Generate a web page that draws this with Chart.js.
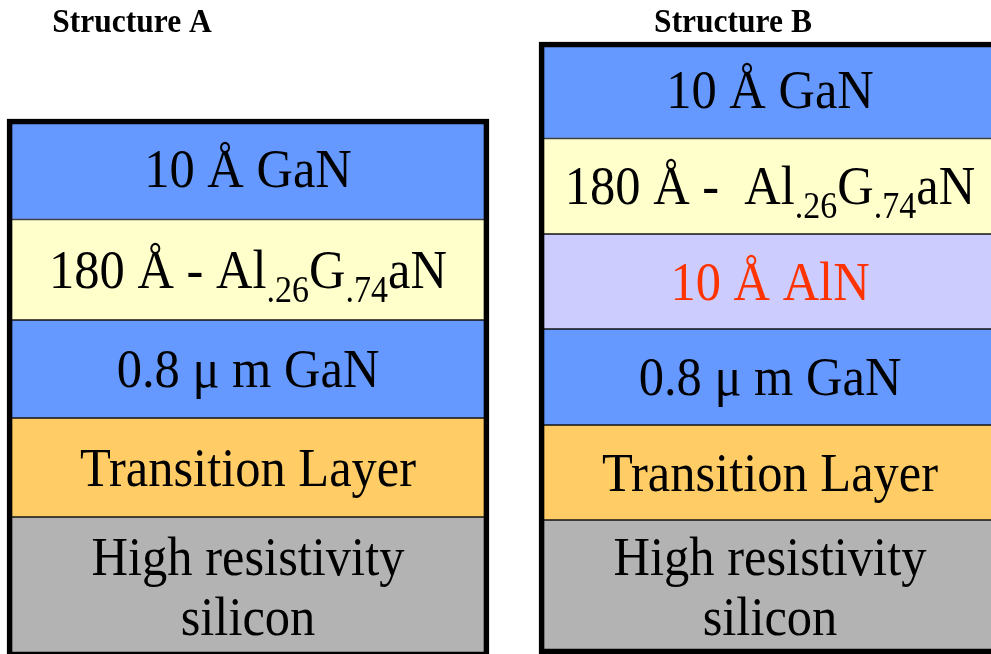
<!DOCTYPE html>
<html>
<head>
<meta charset="utf-8">
<script src="https://cdn.jsdelivr.net/npm/chart.js@4.4.1/dist/chart.umd.min.js"></script>
<style>
  body { margin: 0; background: #fff; }
  canvas { display: block; }
</style>
</head>
<body>
<canvas id="stackChart" width="991" height="654"></canvas>
<script>
// structure names and where their titles sit (x in px)
const structureNames = ['Structure A', 'Structure B'];
const titleX = [132, 733];

// layer labels, _{..} marks a subscript
const layersA = ['10 Å GaN', '180 Å - Al_{.26}G_{.74}aN', '0.8 μ m GaN', 'Transition Layer', 'High resistivity\nsilicon'];
const layersB = ['10 Å GaN', '180 Å -  Al_{.26}G_{.74}aN', '10 Å AlN', '0.8 μ m GaN', 'Transition Layer', 'High resistivity\nsilicon'];

// layer edges, top to bottom (px from top of picture)
const edgesA = [119, 219.5, 320, 418, 517, 657];
const edgesB = [42, 138.5, 234, 329, 425, 520, 654];

const fillsA = ['#6699FF', '#FFFFCC', '#6699FF', '#FFCC66', '#B3B3B3'];
const fillsB = ['#6699FF', '#FFFFCC', '#CCCCFF', '#6699FF', '#FFCC66', '#B3B3B3'];
const textColorsA = ['#000', '#000', '#000', '#000', '#000'];
const textColorsB = ['#000', '#000', '#FF3300', '#000', '#000', '#000'];

// box centre and width
const boxX = [248, 770];
const boxW = [482, 462];

const SERIF = '"Liberation Serif", "Times New Roman", serif';
const STRETCH = 1.09;

function makeDatasets(si, labels, edges, fills, textColors) {
    const sets = labels.map((lab, i) => ({
        label: lab,
        data: [{ x: boxX[si], y: [edges[i], edges[i + 1]] }],
        backgroundColor: fills[i],
        borderColor: '#151515',
        borderWidth: { top: 1, bottom: 1, left: 0, right: 0 },
        borderSkipped: false,
        barThickness: boxW[si],
        grouped: false,
        order: 1,
        textColor: textColors[i]
    }));
    // thick outline round the whole stack
    sets.push({
        label: 'outline',
        data: [{ x: boxX[si], y: [edges[0], edges[edges.length - 1]] }],
        backgroundColor: 'rgba(0,0,0,0)',
        borderColor: '#000',
        borderWidth: 5,
        borderSkipped: false,
        barThickness: boxW[si],
        grouped: false,
        order: 0,
        isOutline: true
    });
    return sets;
}

function parseRich(str) {
    const parts = [];
    const re = /_\{([^}]*)\}/g;
    let last = 0, m;
    while ((m = re.exec(str)) !== null) {
        if (m.index > last) parts.push({ t: str.slice(last, m.index), sub: false });
        parts.push({ t: m[1], sub: true });
        last = re.lastIndex;
    }
    if (last < str.length) parts.push({ t: str.slice(last), sub: false });
    return parts;
}

const mainFont = '50.5px ' + SERIF;
const subFont = '34px ' + SERIF;

const layerText = {
    id: 'layerText',
    afterDatasetsDraw(chart) {
        const ctx = chart.ctx;
        const capH = 50 * 0.662 * STRETCH;
        chart.data.datasets.forEach((ds, di) => {
            if (ds.isOutline) return;
            const bar = chart.getDatasetMeta(di).data[0];
            const cx = bar.x;
            const cy = (bar.y + bar.base) / 2;
            const lines = ds.label.split('\n');
            lines.forEach((line, li) => {
                const baseY = cy + capH / 2 + (li - (lines.length - 1) / 2) * 60;
                const parts = parseRich(line);
                let total = 0;
                parts.forEach(p => {
                    ctx.font = p.sub ? subFont : mainFont;
                    p.w = ctx.measureText(p.t).width;
                    total += p.w;
                });
                ctx.save();
                ctx.translate(cx - total / 2, baseY);
                ctx.scale(1, STRETCH);
                ctx.fillStyle = ds.textColor;
                ctx.textBaseline = 'alphabetic';
                ctx.textAlign = 'left';
                let x = 0;
                parts.forEach(p => {
                    ctx.font = p.sub ? subFont : mainFont;
                    ctx.fillText(p.t, x, p.sub ? 13 : 0);
                    x += p.w;
                });
                ctx.restore();
            });
        });
        // titles
        structureNames.forEach((name, i) => {
            ctx.save();
            ctx.translate(titleX[i], 32);
            ctx.scale(1, STRETCH);
            ctx.font = 'bold 31.5px ' + SERIF;
            ctx.fillStyle = '#000';
            ctx.textAlign = 'center';
            ctx.textBaseline = 'alphabetic';
            ctx.fillText(name, 0, 0);
            ctx.restore();
        });
    }
};

const datasets = makeDatasets(0, layersA, edgesA, fillsA, textColorsA)
    .concat(makeDatasets(1, layersB, edgesB, fillsB, textColorsB));

new Chart(document.getElementById('stackChart').getContext('2d'), {
    type: 'bar',
    data: { datasets: datasets },
    options: {
        responsive: false,
        animation: false,
        layout: { padding: 0 },
        scales: {
            x: { type: 'linear', min: 0, max: 991, offset: false, display: false },
            y: { type: 'linear', min: 0, max: 654, reverse: true, display: false }
        },
        plugins: {
            legend: { display: false },
            tooltip: { enabled: false }
        }
    },
    plugins: [layerText]
});
</script>
</body>
</html>
